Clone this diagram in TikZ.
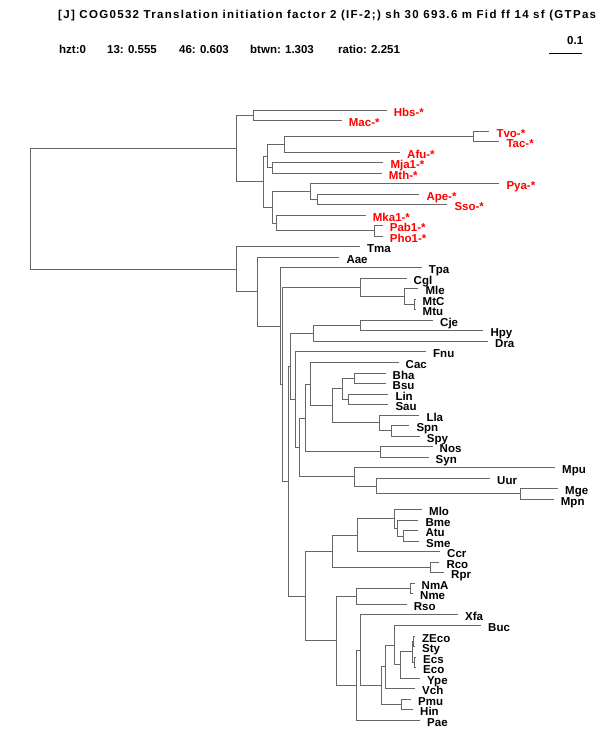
\documentclass[tikz,border=0pt]{standalone}
\usepackage{fontspec}
\setmainfont{Liberation Sans}
\newfontfamily\titlefont[LetterSpace=11.5]{Liberation Sans}
\usetikzlibrary{positioning}
\definecolor{branch}{HTML}{666666}
\definecolor{arch}{HTML}{FF0000}
\tikzset{
  br/.style={draw=branch, line width=1.5pt},
  lab/.style={anchor=base west, inner sep=0pt, xshift=7pt, yshift=-5.5pt,
    font=\fontsize{11.5}{13}\selectfont\bfseries},
  arc/.style={lab, text=arch},
  bac/.style={lab, text=black},
  hdr/.style={anchor=base west, inner sep=0pt, font=\fontsize{11.5}{13}\selectfont\bfseries},
}

\begin{document}
\begin{tikzpicture}[x=1pt, y=-1pt]
  \useasboundingbox (0,0) rectangle (600,750);

  % header
  \node[hdr, font=\titlefont\fontsize{11.5}{13}\selectfont\bfseries] (title) at (58,18)
    {[J] COG0532 Translation initiation factor 2 (IF-2;) sh 30 693.6 m Fid ff 14 sf (GTPas};
  \node[hdr] (hzt)   at (59,53)  {hzt:0};
  \node[hdr] (n13)   at (107,53) {13: 0.555};
  \node[hdr] (n46)   at (179,53) {46: 0.603};
  \node[hdr] (btwn)  at (250,53) {btwn: 1.303};
  \node[hdr] (ratio) at (338,53) {ratio: 2.251};
  \coordinate (sbl) at (549,53.5);
  \coordinate (sbr) at (582,53.5);
  \draw[line width=1pt] (sbl) -- (sbr);
  \node[hdr] (sbt) at (567,44) {0.1};

  % tips, archaea
  \coordinate (Hbs)  at (386.7,110.5);
  \coordinate (Mac)  at (341.7,120.5);
  \coordinate (Tvo)  at (489.3,131.5);
  \coordinate (Tac)  at (499.3,141.5);
  \coordinate (Afu)  at (400.0,152.5);
  \coordinate (Mja1) at (383.3,162.5);
  \coordinate (Mth)  at (381.7,173.5);
  \coordinate (Pya)  at (499.3,183.5);
  \coordinate (Ape)  at (419.3,194.5);
  \coordinate (Sso)  at (447.3,204.5);
  \coordinate (Mka1) at (365.7,215.5);
  \coordinate (Pab1) at (382.7,225.5);
  \coordinate (Pho1) at (382.7,236.5);
  % tips, bacteria
  \coordinate (Tma)  at (360.0,246.5);
  \coordinate (Aae)  at (339.3,257.5);
  \coordinate (Tpa)  at (421.7,267.5);
  \coordinate (Cgl)  at (406.5,278.5);
  \coordinate (Mle)  at (418.3,288.5);
  \coordinate (MtC)  at (415.5,299.5);
  \coordinate (Mtu)  at (415.5,309.5);
  \coordinate (Cje)  at (433.0,320.5);
  \coordinate (Hpy)  at (483.3,330.5);
  \coordinate (Dra)  at (488.0,341.5);
  \coordinate (Fnu)  at (426.0,351.5);
  \coordinate (Cac)  at (398.5,362.5);
  \coordinate (Bha)  at (385.5,373.5);
  \coordinate (Bsu)  at (385.5,383.5);
  \coordinate (Lin)  at (388.3,394.5);
  \coordinate (Sau)  at (388.3,404.5);
  \coordinate (Lla)  at (419.3,415.5);
  \coordinate (Spn)  at (409.3,425.5);
  \coordinate (Spy)  at (419.7,436.5);
  \coordinate (Nos)  at (432.5,446.5);
  \coordinate (Syn)  at (428.5,457.5);
  \coordinate (Mpu)  at (555.0,467.5);
  \coordinate (Uur)  at (490.0,478.5);
  \coordinate (Mge)  at (558.0,488.5);
  \coordinate (Mpn)  at (553.7,499.5);
  \coordinate (Mlo)  at (422.0,509.5);
  \coordinate (Bme)  at (418.3,520.5);
  \coordinate (Atu)  at (418.3,530.5);
  \coordinate (Sme)  at (419.0,541.5);
  \coordinate (Ccr)  at (440.0,551.5);
  \coordinate (Rco)  at (439.3,562.5);
  \coordinate (Rpr)  at (444.0,572.5);
  \coordinate (NmA)  at (414.5,583.5);
  \coordinate (Nme)  at (413.0,593.5);
  \coordinate (Rso)  at (406.7,604.5);
  \coordinate (Xfa)  at (458.0,614.5);
  \coordinate (Buc)  at (481.0,625.5);
  \coordinate (ZEco) at (415.0,636.5);
  \coordinate (Sty)  at (415.0,646.5);
  \coordinate (Ecs)  at (416.0,657.5);
  \coordinate (Eco)  at (416.0,667.5);
  \coordinate (Ype)  at (420.0,678.5);
  \coordinate (Vch)  at (415.0,688.5);
  \coordinate (Pmu)  at (411.0,699.5);
  \coordinate (Hin)  at (413.0,709.5);
  \coordinate (Pae)  at (420.0,720.5);

  % inner nodes
  \coordinate (root) at (30.5,208.5);
  \coordinate (a0)  at (236.5,148.5);
  \coordinate (a1)  at (253.5,115.5);
  \coordinate (a2)  at (263.5,181.5);
  \coordinate (a3)  at (267.5,156.5);
  \coordinate (a5)  at (284.5,144.5);
  \coordinate (a7)  at (473.5,136.5);
  \coordinate (a6)  at (272.5,167.5);
  \coordinate (a4)  at (272.5,207.5);
  \coordinate (a8)  at (310.5,191.5);
  \coordinate (a10) at (317.5,199.5);
  \coordinate (a9)  at (276.5,223.5);
  \coordinate (a11) at (374.5,230.5);
  \coordinate (b0)  at (236.5,269.5);
  \coordinate (b1)  at (257.5,291.5);
  \coordinate (b2)  at (280.5,326.5);
  \coordinate (b3)  at (282.5,384.5);
  \coordinate (b4)  at (360.5,287.5);
  \coordinate (b4a) at (404.5,296.5);
  \coordinate (b4b) at (414.5,304.5);
  \coordinate (b5)  at (288.5,481.5);
  \coordinate (b6)  at (290.5,366.5);
  \coordinate (b8)  at (313.5,333.5);
  \coordinate (b8a) at (360.5,325.5);
  \coordinate (b9)  at (295.5,399.5);
  \coordinate (b10) at (299.5,447.5);
  \coordinate (b11) at (305.5,418.5);
  \coordinate (b13) at (310.5,384.5);
  \coordinate (b15) at (332.5,405.5);
  \coordinate (b16) at (342.5,388.5);
  \coordinate (b18) at (354.5,378.5);
  \coordinate (b19) at (348.5,399.5);
  \coordinate (b17) at (379.5,422.5);
  \coordinate (b20) at (391.5,430.5);
  \coordinate (b14) at (380.5,451.5);
  \coordinate (b12) at (354.5,476.5);
  \coordinate (b21) at (376.5,486.5);
  \coordinate (b22) at (520.5,493.5);
  \coordinate (b7)  at (305.5,596.5);
  \coordinate (c0)  at (332.5,551.5);
  \coordinate (c2)  at (357.5,535.5);
  \coordinate (c4)  at (394.5,518.5);
  \coordinate (c5)  at (397.5,528.5);
  \coordinate (c6)  at (403.5,536.5);
  \coordinate (c3)  at (430.5,567.5);
  \coordinate (c1)  at (336.5,640.5);
  \coordinate (c7)  at (356.5,596.5);
  \coordinate (c9)  at (410.5,588.5);
  \coordinate (c8)  at (356.5,685.5);
  \coordinate (c10) at (360.5,650.5);
  \coordinate (c11) at (381.5,685.5);
  \coordinate (c12) at (385.5,666.5);
  \coordinate (c14) at (394.5,645.5);
  \coordinate (c15) at (400.5,664.5);
  \coordinate (c16) at (412.5,651.5);
  \coordinate (c17) at (413.5,641.5);
  \coordinate (c18) at (414.5,662.5);
  \coordinate (c13) at (401.5,704.5);

  % branches
  \draw[br] (root) |- (a0) (root) |- (b0);
  \draw[br] (a0) |- (a1) (a0) |- (a2);
  \draw[br] (a1) |- (Hbs) (a1) |- (Mac);
  \draw[br] (a2) |- (a3) (a2) |- (a4);
  \draw[br] (a3) |- (a5) (a3) |- (a6);
  \draw[br] (a5) |- (a7) (a5) |- (Afu);
  \draw[br] (a7) |- (Tvo) (a7) |- (Tac);
  \draw[br] (a6) |- (Mja1) (a6) |- (Mth);
  \draw[br] (a4) |- (a8) (a4) |- (a9);
  \draw[br] (a8) |- (Pya) (a8) |- (a10);
  \draw[br] (a10) |- (Ape) (a10) |- (Sso);
  \draw[br] (a9) |- (Mka1) (a9) |- (a11);
  \draw[br] (a11) |- (Pab1) (a11) |- (Pho1);
  \draw[br] (b0) |- (Tma) (b0) |- (b1);
  \draw[br] (b1) |- (Aae) (b1) |- (b2);
  \draw[br] (b2) |- (Tpa) (b2) |- (b3);
  \draw[br] (b3) |- (b4) (b3) |- (b5);
  \draw[br] (b4) |- (Cgl) (b4) |- (b4a);
  \draw[br] (b4a) |- (Mle) (b4a) |- (b4b);
  \draw[br] (b4b) |- (MtC) (b4b) |- (Mtu);
  \draw[br] (b5) |- (b6) (b5) |- (b7);
  \draw[br] (b6) |- (b8) (b6) |- (b9);
  \draw[br] (b8) |- (b8a) (b8) |- (Dra);
  \draw[br] (b8a) |- (Cje) (b8a) |- (Hpy);
  \draw[br] (b9) |- (Fnu) (b9) |- (b10);
  \draw[br] (b10) |- (b11) (b10) |- (b12);
  \draw[br] (b11) |- (b13) (b11) |- (b14);
  \draw[br] (b13) |- (Cac) (b13) |- (b15);
  \draw[br] (b15) |- (b16) (b15) |- (b17);
  \draw[br] (b16) |- (b18) (b16) |- (b19);
  \draw[br] (b18) |- (Bha) (b18) |- (Bsu);
  \draw[br] (b19) |- (Lin) (b19) |- (Sau);
  \draw[br] (b17) |- (Lla) (b17) |- (b20);
  \draw[br] (b20) |- (Spn) (b20) |- (Spy);
  \draw[br] (b14) |- (Nos) (b14) |- (Syn);
  \draw[br] (b12) |- (Mpu) (b12) |- (b21);
  \draw[br] (b21) |- (Uur) (b21) |- (b22);
  \draw[br] (b22) |- (Mge) (b22) |- (Mpn);
  \draw[br] (b7) |- (c0) (b7) |- (c1);
  \draw[br] (c0) |- (c2) (c0) |- (c3);
  \draw[br] (c2) |- (c4) (c2) |- (Ccr);
  \draw[br] (c4) |- (Mlo) (c4) |- (c5);
  \draw[br] (c5) |- (Bme) (c5) |- (c6);
  \draw[br] (c6) |- (Atu) (c6) |- (Sme);
  \draw[br] (c3) |- (Rco) (c3) |- (Rpr);
  \draw[br] (c1) |- (c7) (c1) |- (c8);
  \draw[br] (c7) |- (c9) (c7) |- (Rso);
  \draw[br] (c9) |- (NmA) (c9) |- (Nme);
  \draw[br] (c8) |- (c10) (c8) |- (Pae);
  \draw[br] (c10) |- (Xfa) (c10) |- (c11);
  \draw[br] (c11) |- (c12) (c11) |- (c13);
  \draw[br] (c12) |- (c14) (c12) |- (Vch);
  \draw[br] (c14) |- (Buc) (c14) |- (c15);
  \draw[br] (c15) |- (c16) (c15) |- (Ype);
  \draw[br] (c16) |- (c17) (c16) |- (c18);
  \draw[br] (c17) |- (ZEco) (c17) |- (Sty);
  \draw[br] (c18) |- (Ecs) (c18) |- (Eco);
  \draw[br] (c13) |- (Pmu) (c13) |- (Hin);

  % labels
  \node[arc] (lHbs)  at (Hbs)  {Hbs-*};
  \node[arc] (lMac)  at (Mac)  {Mac-*};
  \node[arc] (lTvo)  at (Tvo)  {Tvo-*};
  \node[arc] (lTac)  at (Tac)  {Tac-*};
  \node[arc] (lAfu)  at (Afu)  {Afu-*};
  \node[arc] (lMja1) at (Mja1) {Mja1-*};
  \node[arc] (lMth)  at (Mth)  {Mth-*};
  \node[arc] (lPya)  at (Pya)  {Pya-*};
  \node[arc] (lApe)  at (Ape)  {Ape-*};
  \node[arc] (lSso)  at (Sso)  {Sso-*};
  \node[arc] (lMka1) at (Mka1) {Mka1-*};
  \node[arc] (lPab1) at (Pab1) {Pab1-*};
  \node[arc] (lPho1) at (Pho1) {Pho1-*};
  \node[bac] (lTma)  at (Tma)  {Tma};
  \node[bac] (lAae)  at (Aae)  {Aae};
  \node[bac] (lTpa)  at (Tpa)  {Tpa};
  \node[bac] (lCgl)  at (Cgl)  {Cgl};
  \node[bac] (lMle)  at (Mle)  {Mle};
  \node[bac] (lMtC)  at (MtC)  {MtC};
  \node[bac] (lMtu)  at (Mtu)  {Mtu};
  \node[bac] (lCje)  at (Cje)  {Cje};
  \node[bac] (lHpy)  at (Hpy)  {Hpy};
  \node[bac] (lDra)  at (Dra)  {Dra};
  \node[bac] (lFnu)  at (Fnu)  {Fnu};
  \node[bac] (lCac)  at (Cac)  {Cac};
  \node[bac] (lBha)  at (Bha)  {Bha};
  \node[bac] (lBsu)  at (Bsu)  {Bsu};
  \node[bac] (lLin)  at (Lin)  {Lin};
  \node[bac] (lSau)  at (Sau)  {Sau};
  \node[bac] (lLla)  at (Lla)  {Lla};
  \node[bac] (lSpn)  at (Spn)  {Spn};
  \node[bac] (lSpy)  at (Spy)  {Spy};
  \node[bac] (lNos)  at (Nos)  {Nos};
  \node[bac] (lSyn)  at (Syn)  {Syn};
  \node[bac] (lMpu)  at (Mpu)  {Mpu};
  \node[bac] (lUur)  at (Uur)  {Uur};
  \node[bac] (lMge)  at (Mge)  {Mge};
  \node[bac] (lMpn)  at (Mpn)  {Mpn};
  \node[bac] (lMlo)  at (Mlo)  {Mlo};
  \node[bac] (lBme)  at (Bme)  {Bme};
  \node[bac] (lAtu)  at (Atu)  {Atu};
  \node[bac] (lSme)  at (Sme)  {Sme};
  \node[bac] (lCcr)  at (Ccr)  {Ccr};
  \node[bac] (lRco)  at (Rco)  {Rco};
  \node[bac] (lRpr)  at (Rpr)  {Rpr};
  \node[bac] (lNmA)  at (NmA)  {NmA};
  \node[bac] (lNme)  at (Nme)  {Nme};
  \node[bac] (lRso)  at (Rso)  {Rso};
  \node[bac] (lXfa)  at (Xfa)  {Xfa};
  \node[bac] (lBuc)  at (Buc)  {Buc};
  \node[bac] (lZEco) at (ZEco) {ZEco};
  \node[bac] (lSty)  at (Sty)  {Sty};
  \node[bac] (lEcs)  at (Ecs)  {Ecs};
  \node[bac] (lEco)  at (Eco)  {Eco};
  \node[bac] (lYpe)  at (Ype)  {Ype};
  \node[bac] (lVch)  at (Vch)  {Vch};
  \node[bac] (lPmu)  at (Pmu)  {Pmu};
  \node[bac] (lHin)  at (Hin)  {Hin};
  \node[bac] (lPae)  at (Pae)  {Pae};
\end{tikzpicture}
\end{document}
